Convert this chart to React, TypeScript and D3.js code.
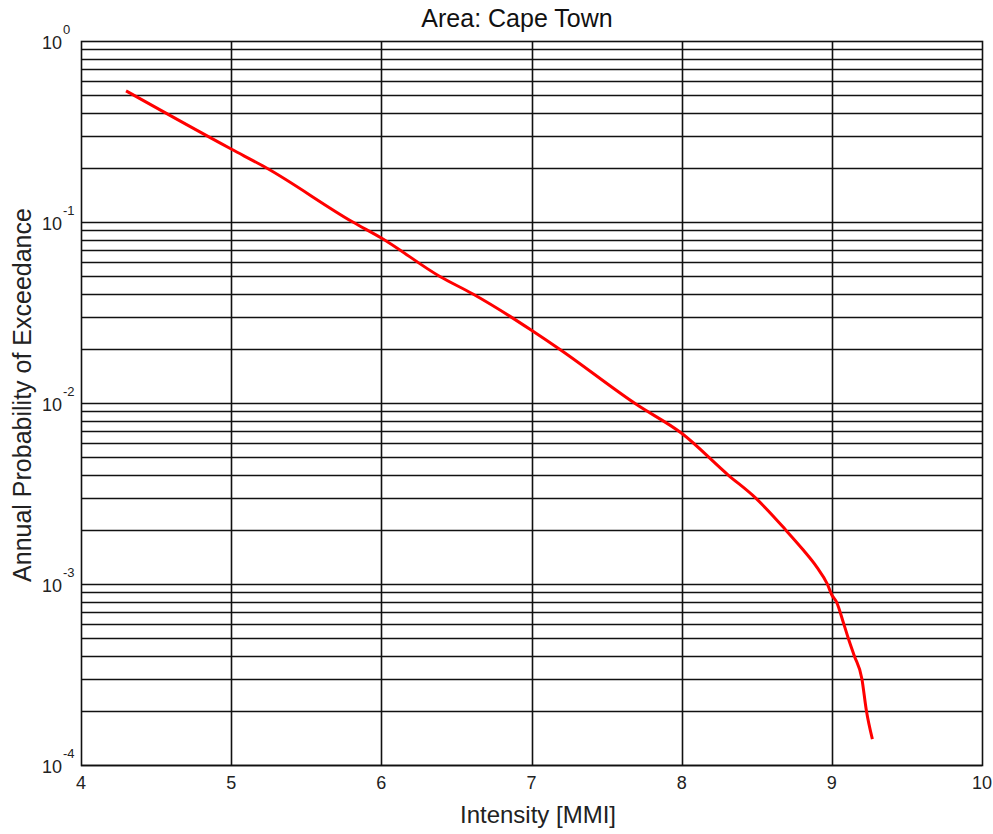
import React, { useEffect, useRef } from "react";
import * as d3 from "d3";

const intensity = [4.3, 5.0, 5.23, 5.81, 6.0, 6.39, 6.61, 6.86, 7.0, 7.18, 7.7, 8.0, 8.31, 8.49, 8.69, 8.81, 8.9, 8.97, 9.0, 9.03, 9.08, 9.11, 9.15, 9.2, 9.23, 9.27];
const probability = [0.53, 0.253, 0.2, 0.1, 0.0816, 0.05, 0.04, 0.03, 0.0252, 0.02, 0.0098, 0.0068, 0.004, 0.003, 0.002, 0.00154, 0.00124, 0.001, 0.00087, 0.0008, 0.0006, 0.0005, 0.0004, 0.0003, 0.0002, 0.000139];
const xTicks = [4, 5, 6, 7, 8, 9, 10];
const yExponents = [0, -1, -2, -3, -4];

const title = "Area: Cape Town";
const xLabel = "Intensity [MMI]";
const yLabel = "Annual Probability of Exceedance";

const App = () => {
  const ref = useRef<SVGSVGElement>(null);

  useEffect(() => {
    const width = 993;
    const height = 834;
    const margin = { top: 41, right: 11, bottom: 69, left: 81 };
    const font = "'Liberation Sans', Arial, sans-serif";

    const svg = d3.select(ref.current).attr("width", width).attr("height", height);
    svg.selectAll("*").remove();

    const x = d3.scaleLinear().domain([4, 10]).range([margin.left, width - margin.right]);
    const y = d3.scaleLog().domain([1e-4, 1]).range([height - margin.bottom, margin.top]);

    const data = intensity.map((v, i) => ({ x: v, p: probability[i] }));

    svg.append("rect").attr("width", width).attr("height", height).attr("fill", "white");

    // horizontal grid: every 1..9 x decade
    const hLines: number[] = [];
    for (let e = -4; e < 0; e++) {
      for (let m = 1; m <= 9; m++) hLines.push(m * Math.pow(10, e));
    }
    svg
      .append("g")
      .selectAll("line")
      .data(hLines)
      .join("line")
      .attr("x1", x(4))
      .attr("x2", x(10))
      .attr("y1", (d) => Math.round(y(d)) + 0.5)
      .attr("y2", (d) => Math.round(y(d)) + 0.5)
      .attr("stroke", "#111")
      .attr("stroke-width", 1.6);

    svg
      .append("g")
      .selectAll("line")
      .data(xTicks.slice(1, -1))
      .join("line")
      .attr("x1", (d) => Math.round(x(d)) + 0.5)
      .attr("x2", (d) => Math.round(x(d)) + 0.5)
      .attr("y1", y(1))
      .attr("y2", y(1e-4))
      .attr("stroke", "#111")
      .attr("stroke-width", 1.6);

    svg
      .append("rect")
      .attr("x", x(4) + 0.5)
      .attr("y", y(1) + 0.5)
      .attr("width", x(10) - x(4))
      .attr("height", y(1e-4) - y(1))
      .attr("fill", "none")
      .attr("stroke", "#111")
      .attr("stroke-width", 1.6);

    const line = d3
      .line<{ x: number; p: number }>()
      .curve(d3.curveMonotoneX)
      .x((d) => x(d.x))
      .y((d) => y(d.p));

    svg
      .append("path")
      .datum(data)
      .attr("fill", "none")
      .attr("stroke", "#ff0000")
      .attr("stroke-width", 3)
      .attr("stroke-linejoin", "round")
      .attr("d", line);

    // x tick labels
    svg
      .append("g")
      .selectAll("text")
      .data(xTicks)
      .join("text")
      .attr("x", (d) => x(d))
      .attr("y", y(1e-4) + 24)
      .attr("text-anchor", "middle")
      .attr("font-family", font)
      .attr("font-size", 18)
      .attr("fill", "#222")
      .text((d) => d);

    // y tick labels: 10^e
    const yg = svg.append("g");
    yg.selectAll("text.base")
      .data(yExponents)
      .join("text")
      .attr("class", "base")
      .attr("x", x(4) - 19)
      .attr("y", (d) => y(Math.pow(10, d)) + 8)
      .attr("text-anchor", "end")
      .attr("font-family", font)
      .attr("font-size", 18)
      .attr("fill", "#222")
      .text("10");
    yg.selectAll("text.exp")
      .data(yExponents)
      .join("text")
      .attr("class", "exp")
      .attr("x", x(4) - 18)
      .attr("y", (d) => y(Math.pow(10, d)) - 7)
      .attr("text-anchor", "start")
      .attr("font-family", font)
      .attr("font-size", 13)
      .attr("fill", "#222")
      .text((d) => d);

    svg
      .append("text")
      .attr("x", 517)
      .attr("y", 27)
      .attr("text-anchor", "middle")
      .attr("font-family", font)
      .attr("font-size", 25)
      .attr("fill", "#111")
      .text(title);

    svg
      .append("text")
      .attr("x", 538)
      .attr("y", 823)
      .attr("text-anchor", "middle")
      .attr("font-family", font)
      .attr("font-size", 24)
      .attr("fill", "#222")
      .text(xLabel);

    svg
      .append("text")
      .attr("transform", `translate(31,395) rotate(-90)`)
      .attr("text-anchor", "middle")
      .attr("font-family", font)
      .attr("font-size", 25)
      .attr("fill", "#222")
      .text(yLabel);
  }, []);

  return <svg ref={ref} style={{ position: "absolute", left: 0, top: 0 }}></svg>;
};

export default App;
